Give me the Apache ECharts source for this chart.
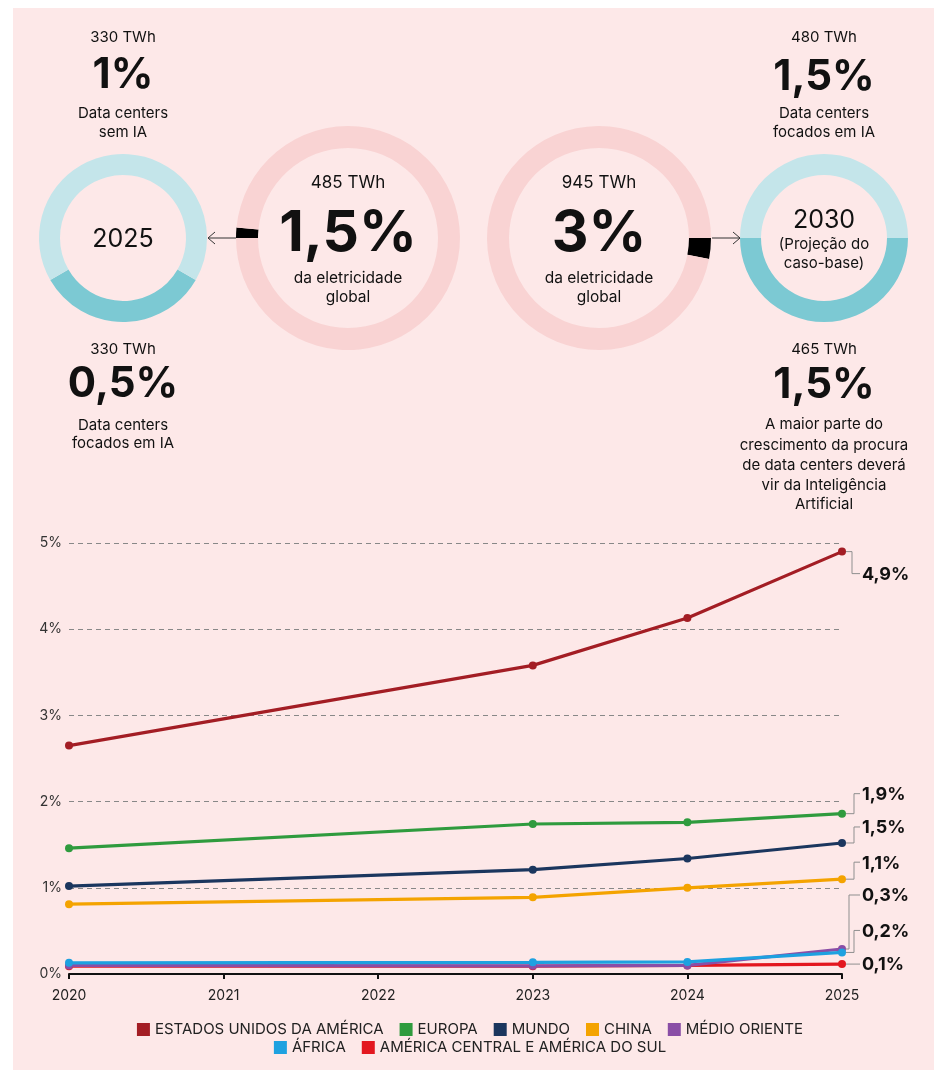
<!DOCTYPE html>
<html>
<head>
<meta charset="utf-8">
<script src="https://cdn.jsdelivr.net/npm/echarts@6/dist/echarts.min.js"></script>
<style>
  html, body { margin: 0; padding: 0; background: #ffffff; }
  #wrap { position: relative; width: 940px; height: 1080px; }
  #bg { position: absolute; left: 13px; top: 8px; width: 921px; height: 1062px; background: #fde8e8; }
  #chart { position: absolute; left: 0; top: 0; width: 940px; height: 1080px; }
</style>
</head>
<body>
<div id="wrap"><div id="bg"></div><div id="chart"></div></div>
<script>
// ---------- DATA ----------
const years = [2020, 2023, 2024, 2025];
const seriesNames = ['ESTADOS UNIDOS DA AMÉRICA', 'EUROPA', 'MUNDO', 'CHINA', 'MÉDIO ORIENTE', 'ÁFRICA', 'AMÉRICA CENTRAL E AMÉRICA DO SUL'];
const usa          = [2.65, 3.58, 4.13, 4.90];
const europa       = [1.46, 1.74, 1.76, 1.86];
const mundo        = [1.02, 1.21, 1.34, 1.52];
const china        = [0.81, 0.89, 1.00, 1.10];
const medioOriente = [0.10, 0.095, 0.10, 0.29];
const africa       = [0.13, 0.135, 0.14, 0.25];
const americaSul   = [0.09, 0.09, 0.10, 0.115];
const endLabels    = ['4,9%', '1,9%', '1,5%', '1,1%', '0,3%', '0,2%', '0,1%'];
const yTickSuffix  = '%';

// donuts (percent of global electricity)
const share2025 = [0.5, 1];      // [focados em IA, sem IA]
const global2025 = [1.5, 98.5];  // data centers vs rest
const global2030 = [3, 97];
const share2030 = [1.5, 1.5];    // [crescimento IA, focados em IA]

// ---------- STYLE ----------
const FONT = 'Inter, "Noto Sans", sans-serif';
const colors = ['#a31d24', '#2f9b3e', '#1b365e', '#f4a300', '#8a4ea6', '#1ea1e0', '#e3171f'];
const zOrder = [6, 5, 4, 3, 2, 3.5, 1];
const labelDy = [22, -20, -16, -17, -54, -22, 0];
const elbowDx = [10, 12, 12, 12, 7, 12, 0];
const allSeries = [usa, europa, mundo, china, medioOriente, africa, americaSul];

const chart = echarts.init(document.getElementById('chart'), null, { renderer: 'canvas' });

function txt(x, y, text, size, weight) {
  return {
    type: 'text', x: x, y: y, z: 50, silent: true,
    style: {
      text: text, fill: '#111',
      font: (weight || 'normal') + ' ' + size + 'px ' + FONT,
      align: 'center', verticalAlign: 'middle',
      textAlign: 'center', textVerticalAlign: 'middle'
    }
  };
}

const lightTeal = '#c4e5ea', darkTeal = '#7cc9d3', pinkRing = '#f9d3d3';

function pie(center, radius, startAngle, data, cols) {
  return {
    type: 'pie', center: center, radius: radius, startAngle: startAngle, clockwise: true,
    silent: true, animation: false, label: { show: false }, labelLine: { show: false },
    emphasis: { disabled: true }, z: 1,
    data: data.map((v, i) => ({ value: v, itemStyle: { color: cols[i] } }))
  };
}

const lineSeries = allSeries.map((vals, i) => ({
  type: 'line', name: seriesNames[i],
  data: years.map((y, k) => [y, vals[k]]),
  symbol: 'circle', symbolSize: 8, showSymbol: true,
  lineStyle: { width: 3.2, color: colors[i] },
  itemStyle: { color: colors[i] },
  z: zOrder[i], silent: true, animation: false
}));

const topTexts = [
  txt(123, 37, '330 TWh', 15), txt(123, 75, '1%', 42, 'bold'),
  txt(123, 113, 'Data centers', 15), txt(123, 132, 'sem IA', 15),
  txt(123, 239, '2025', 25),
  txt(123, 349, '330 TWh', 15), txt(123, 384, '0,5%', 42, 'bold'),
  txt(123, 425, 'Data centers', 15), txt(123, 443, 'focados em IA', 15),

  txt(348, 183, '485 TWh', 17), txt(348, 234, '1,5%', 57, 'bold'),
  txt(348, 278, 'da eletricidade', 15.5), txt(348, 297, 'global', 15.5),

  txt(599, 183, '945 TWh', 17), txt(599, 234, '3%', 57, 'bold'),
  txt(599, 278, 'da eletricidade', 15.5), txt(599, 297, 'global', 15.5),

  txt(824, 37, '480 TWh', 15), txt(824, 77, '1,5%', 42, 'bold'),
  txt(824, 113, 'Data centers', 15), txt(824, 132, 'focados em IA', 15),
  txt(824, 220, '2030', 25), txt(824, 244, '(Projeção do', 15), txt(824, 263, 'caso-base)', 15),

  txt(824, 349, '465 TWh', 15), txt(824, 385, '1,5%', 42, 'bold'),
  txt(824, 424, 'A maior parte do', 15), txt(824, 445, 'crescimento da procura', 15),
  txt(824, 465, 'de data centers deverá', 15), txt(824, 485, 'vir da Inteligência', 15),
  txt(824, 504, 'Artificial', 15)
];

const arrowStyle = { stroke: '#333', lineWidth: 1, fill: null };
const arrows = [
  { type: 'polyline', z: 40, silent: true, shape: { points: [[236, 238], [208, 238]] }, style: arrowStyle },
  { type: 'polyline', z: 40, silent: true, shape: { points: [[215, 232], [208, 238], [215, 244]] }, style: arrowStyle },
  { type: 'polyline', z: 40, silent: true, shape: { points: [[712, 238], [740, 238]] }, style: arrowStyle },
  { type: 'polyline', z: 40, silent: true, shape: { points: [[733, 232], [740, 238], [733, 244]] }, style: arrowStyle }
];

const legendBase = {
  left: 'center', icon: 'rect', itemWidth: 13, itemHeight: 13, itemGap: 16, selectedMode: false,
  textStyle: { fontSize: 15, color: '#222', fontFamily: FONT }
};

const option = {
  animation: false,
  backgroundColor: 'transparent',
  textStyle: { fontFamily: FONT },
  grid: { left: 69, right: 98, top: 543, bottom: 106, containLabel: false },
  xAxis: {
    type: 'value', min: 2020, max: 2025, interval: 1,
    axisLine: { show: true, lineStyle: { color: '#111', width: 2 } },
    axisTick: { show: true, length: 5, lineStyle: { color: '#111', width: 2 } },
    axisLabel: { fontSize: 14, color: '#222', margin: 15, fontFamily: FONT, formatter: v => String(v) },
    splitLine: { show: false }
  },
  yAxis: {
    type: 'value', min: 0, max: 5, interval: 1,
    axisLine: { show: false }, axisTick: { show: false },
    axisLabel: { fontSize: 14, color: '#333', margin: 7, fontFamily: FONT, formatter: v => v + yTickSuffix },
    splitLine: { show: true, lineStyle: { color: '#888888', type: [5, 4], width: 1 } }
  },
  legend: [
    Object.assign({ data: seriesNames.slice(0, 5), top: 1017 }, legendBase),
    Object.assign({ data: seriesNames.slice(5), top: 1035 }, legendBase)
  ],
  series: [
    pie([123, 238], [63, 84], 330, share2025, [darkTeal, lightTeal]),
    pie([348, 238], [90, 112], 180, global2025, ['#000000', pinkRing]),
    pie([599, 238], [90, 112], 0, global2030, ['#000000', pinkRing]),
    pie([824, 238], [63, 84], 0, share2030, [darkTeal, lightTeal])
  ].concat(lineSeries),
  graphic: topTexts.concat(arrows)
};

chart.setOption(option);

// end-of-line value labels with elbow connectors, anchored to the last data point
const endGraphics = [];
allSeries.forEach((vals, i) => {
  const p = chart.convertToPixel({ gridIndex: 0 }, [years[years.length - 1], vals[vals.length - 1]]);
  const px = p[0], py = p[1];
  const ly = py + labelDy[i];
  const tx = px + 20;
  const pts = labelDy[i] === 0
    ? [[px + 4, py], [tx - 2, py]]
    : [[px + 4, py], [px + elbowDx[i], py], [px + elbowDx[i], ly], [tx - 2, ly]];
  endGraphics.push({
    type: 'polyline', z: 60, silent: true, shape: { points: pts },
    style: { stroke: '#8f8f8f', lineWidth: 1, fill: null }
  });
  endGraphics.push({
    type: 'text', x: tx, y: ly + 1, z: 60, silent: true,
    style: {
      text: endLabels[i], fill: '#111', font: 'bold 18px ' + FONT,
      align: 'left', verticalAlign: 'middle', textAlign: 'left', textVerticalAlign: 'middle'
    }
  });
});
chart.setOption({ graphic: topTexts.concat(arrows).concat(endGraphics) });
</script>
</body>
</html>
